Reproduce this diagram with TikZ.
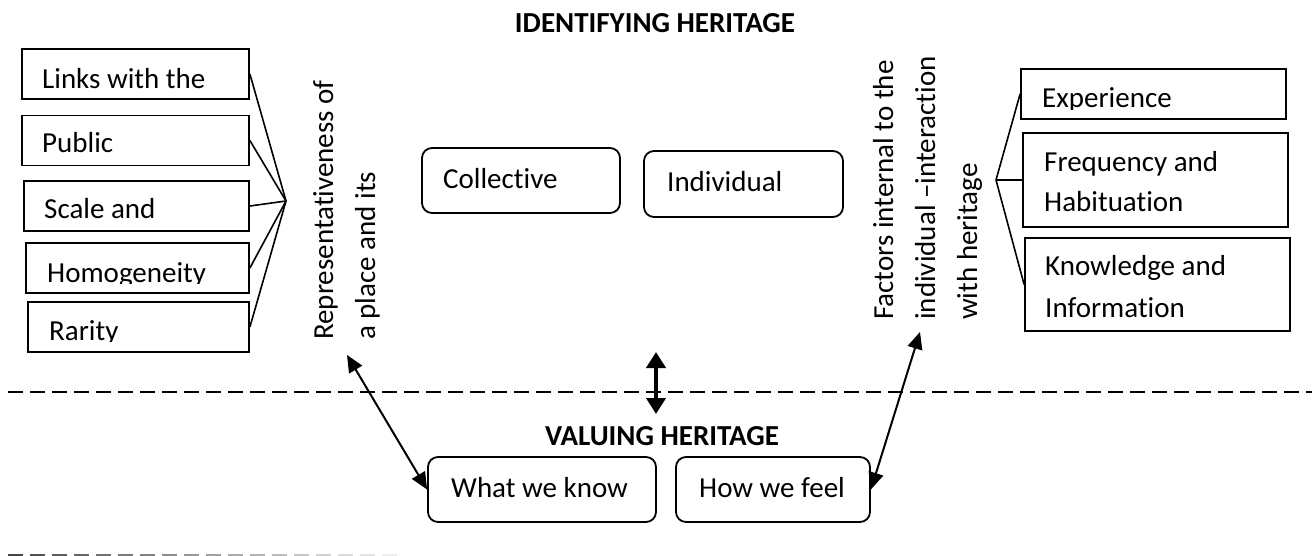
\documentclass[tikz,border=0pt]{standalone}
\usepackage{fontspec}
\setmainfont[Ligatures=NoCommon]{Carlito}
\usetikzlibrary{arrows.meta}
\tikzset{
  every node/.style={font=\fontsize{29}{40}\selectfont},
  rbox/.style={draw, line width=1.8pt, inner sep=0pt, rectangle},
  rrbox/.style={draw, line width=1.8pt, inner sep=0pt, rounded corners=10pt},
  txt/.style={anchor=base west, inner sep=0pt},
  vtxt/.style={anchor=base west, inner sep=0pt, rotate=90},
  conn/.style={line width=1.6pt},
  dbl/.style={line width=2pt, {Triangle[length=17pt,width=15pt]}-{Triangle[length=17pt,width=15pt]}},
  dblthick/.style={line width=4pt, {Triangle[length=16pt,width=19pt]}-{Triangle[length=16pt,width=19pt]}},
  sep/.style={line width=2pt, dash pattern=on 15pt off 7pt}
}
\begin{document}
\begin{tikzpicture}[x=1pt,y=-1pt]
\useasboundingbox (0,0) rectangle (1312,556);

% title
\node[anchor=base, inner sep=0pt, font=\fontsize{29}{34}\selectfont\bfseries] (title) at (655,33) {IDENTIFYING HERITAGE};

% left boxes
\node[rbox, minimum width=227pt, minimum height=50pt] (links) at (135.5,74) {};
\node[rbox, minimum width=227pt, minimum height=50pt] (public) at (135.5,140.5) {};
\node[rbox, minimum width=225pt, minimum height=50pt] (scale) at (136.5,206) {};
\node[rbox, minimum width=223pt, minimum height=50pt] (homog) at (137.5,268) {};
\node[rbox, minimum width=221pt, minimum height=50pt] (rarity) at (138.5,327) {};

\begin{scope}\clip (22,49) rectangle (249,90.5);
\node[txt] (tlinks) at (42,89) {Links with the};\end{scope}
\begin{scope}\clip (22,116) rectangle (249,154.5);
\node[txt] (tpublic) at (42,153) {Public};\end{scope}
\begin{scope}\clip (24,181) rectangle (249,220.5);
\node[txt] (tscale) at (44,219) {Scale and};\end{scope}
\begin{scope}\clip (26,243) rectangle (249,283.5);
\node[txt] (thomog) at (47,282) {Homogeneity};\end{scope}
\begin{scope}\clip (28,302) rectangle (249,341.5);
\node[txt] (trarity) at (49,340) {Rarity};\end{scope}

\coordinate (lhub) at (286,201);
\foreach \b in {links,public,scale,homog,rarity}{\draw[conn] (\b.east) -- (lhub);}

% left rotated label
\node[vtxt] (rep1) at (333,340) {Representativeness of};
\node[vtxt] (rep2) at (375,340) {a place and its};

% centre boxes
\node[rrbox, minimum width=198pt, minimum height=65pt] (coll) at (521,180.5) {};
\node[txt] (tcoll) at (443,189) {Collective};
\node[rrbox, minimum width=199pt, minimum height=66pt] (indiv) at (743.5,184) {};
\node[txt] (tindiv) at (667,192) {Individual};

% right rotated label
\node[vtxt] (fac1) at (893,320) {Factors internal to the};
\node[vtxt] (fac2) at (935,320) {individual –interaction};
\node[vtxt] (fac3) at (977,320) {with heritage};

% right boxes
\node[rbox, minimum width=265pt, minimum height=50pt] (exper) at (1153.5,94) {};
\begin{scope}\clip (1021,69) rectangle (1286,109.5);
\node[txt] (texper) at (1042,108) {Experience};\end{scope}
\node[rbox, minimum width=265pt, minimum height=94pt] (freq) at (1155.5,180) {};
\node[txt] (tfreq1) at (1044,172) {Frequency and};
\node[txt] (tfreq2) at (1044,212) {Habituation};
\node[rbox, minimum width=265pt, minimum height=93pt] (know) at (1157.5,284.5) {};
\node[txt] (tknow1) at (1045,275) {Knowledge and};
\node[txt] (tknow2) at (1045,317) {Information};

\coordinate (rhub) at (996,180);
\foreach \b in {exper,freq,know}{\draw[conn] (\b.west) -- (rhub);}

% separator
\coordinate (sepL) at (8,392);
\coordinate (sepR) at (1312,392);
\draw[sep] (sepL) -- (sepR);

% valuing
\node[anchor=base, inner sep=0pt, font=\fontsize{29}{34}\selectfont\bfseries] (valu) at (662,445) {VALUING HERITAGE};
\node[rrbox, minimum width=228pt, minimum height=65pt] (wknow) at (542,489.5) {};
\node[txt] (twknow) at (451,497) {What we know};
\node[rrbox, minimum width=194pt, minimum height=65pt] (hfeel) at (773,489.5) {};
\node[txt] (thfeel) at (699,497) {How we feel};

% arrows
\coordinate (la) at (347,355);
\coordinate (ra) at (920,332);
\draw[dbl] (la) -- (wknow.west);
\draw[dbl] (ra) -- (hfeel.east);
\coordinate (va) at (656,352);
\coordinate (vb) at (656,414);
\draw[dblthick] (va) -- (vb);

% fading bottom dashes
\foreach \i in {0,...,17}{
  \pgfmathtruncatemacro\c{72-3.8*\i}
  \draw[line width=2pt, black!\c] (8+22*\i,555) -- ++(15,0);
}
\end{tikzpicture}
\end{document}
